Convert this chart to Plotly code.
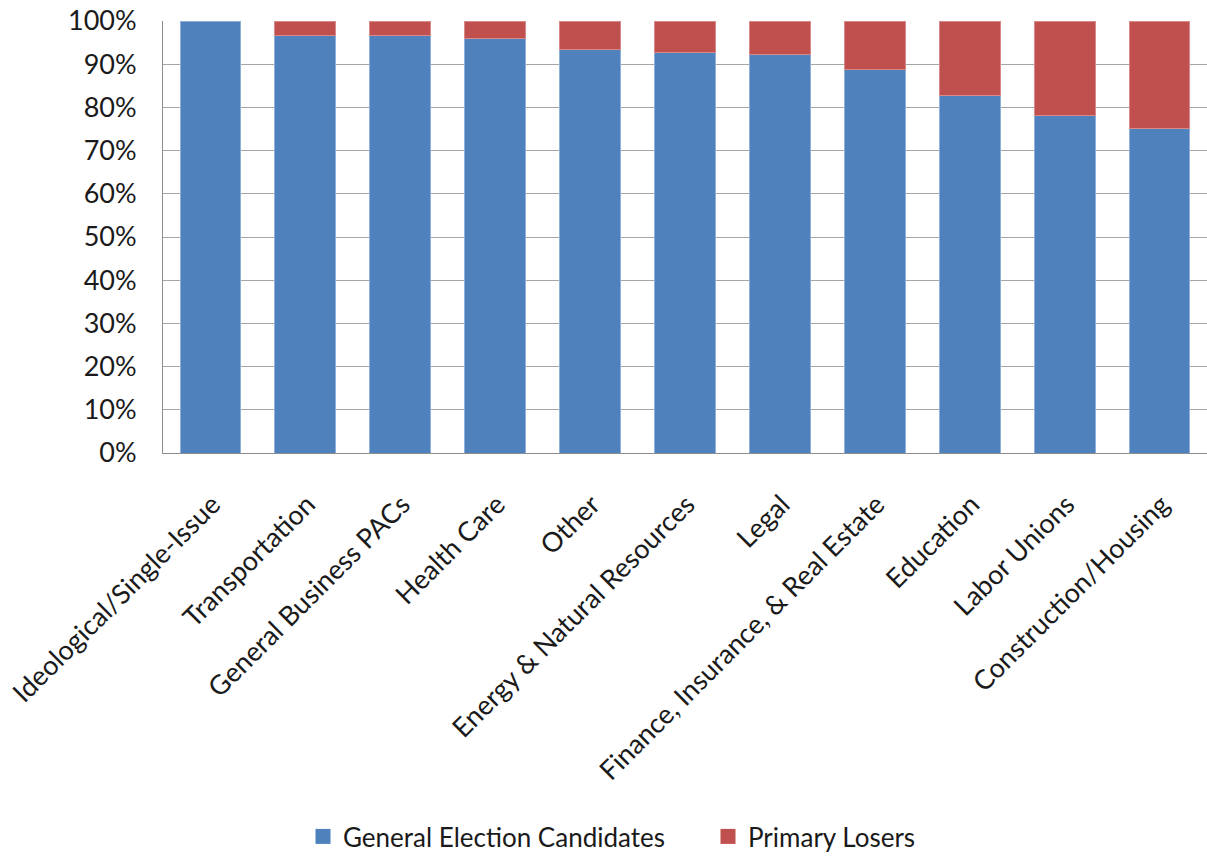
import plotly.graph_objects as go

categories = [
    "Ideological/Single-Issue", "Transportation", "General Business PACs",
    "Health Care", "Other", "Energy & Natural Resources", "Legal",
    "Finance, Insurance, & Real Estate", "Education", "Labor Unions",
    "Construction/Housing",
]
general_pct = [100.0, 96.7, 96.7, 96.0, 93.4, 92.6, 92.3, 88.7, 82.8, 78.1, 75.2]
primary_pct = [round(100 - g, 1) for g in general_pct]
y_ticks = [0, 10, 20, 30, 40, 50, 60, 70, 80, 90, 100]
y_tick_labels = [f"{t}%" for t in y_ticks]

FONT = "Lato"
TEXT = "#1a1a1a"
BLUE = "#4F81BD"
RED = "#C0504D"

# thin light outline on bars with a visible segment only
primary_line_w = [0 if v == 0 else 1 for v in primary_pct]

fig = go.Figure()
fig.add_trace(go.Bar(
    x=categories, y=general_pct, name="General Election Candidates",
    marker=dict(color=BLUE, line=dict(color="#8FB0DA", width=1)),
    showlegend=False,
))
fig.add_trace(go.Bar(
    x=categories, y=primary_pct, name="Primary Losers",
    marker=dict(color=RED, line=dict(color="#D98A88", width=primary_line_w)),
    showlegend=False,
))

# legend entries with larger square swatches
for name, color in [("General Election Candidates", BLUE), ("Primary Losers", RED)]:
    fig.add_trace(go.Scatter(
        x=[None], y=[None], mode="markers", name=name,
        marker=dict(symbol="square", size=15, color=color),
    ))

fig.update_layout(
    barmode="stack",
    bargap=0.36,
    width=1207, height=860,
    margin=dict(l=163, r=0, t=21, b=403),
    paper_bgcolor="white", plot_bgcolor="white",
    font=dict(family=FONT, size=27, color=TEXT),
    legend=dict(
        orientation="h", x=(303 - 163) / 1044, xanchor="left",
        y=-0.888, yanchor="middle",
        font=dict(size=26, color=TEXT), itemwidth=30, traceorder="normal",
        entrywidth=360, entrywidthmode="pixels",
    ),
    showlegend=True,
)
fig.update_xaxes(
    tickangle=-45, showgrid=False, showline=True, linecolor="#8c8c8c",
    linewidth=1, ticks="", tickfont=dict(size=27, color=TEXT), automargin=False,
    ticklabelshift=2, ticklabelstandoff=24,
)
fig.update_yaxes(
    range=[0, 100], tickvals=y_ticks, ticktext=y_tick_labels,
    showgrid=True, gridcolor="#a6a6a6", gridwidth=1,
    showline=True, linecolor="#8c8c8c", linewidth=1,
    ticks="", tickfont=dict(size=27, color=TEXT), zeroline=False,
    automargin=False, ticklabelstandoff=20,
)

fig.write_html("out.html")
